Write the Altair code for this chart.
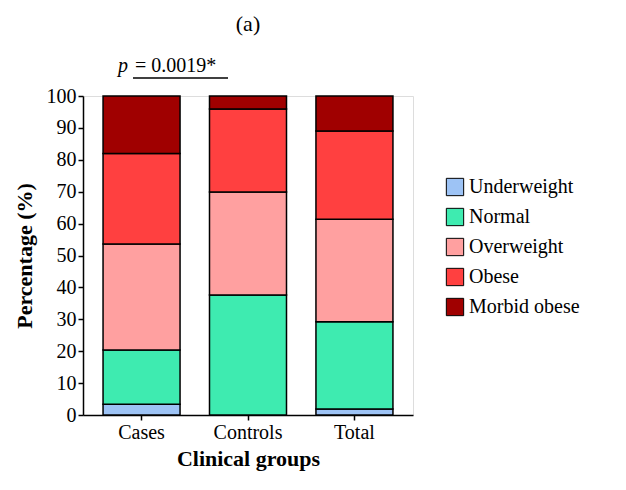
import altair as alt
import pandas as pd

groups = ["Cases", "Controls", "Total"]
categories = ["Underweight", "Normal", "Overweight", "Obese", "Morbid obese"]
colors = ["#9dc3f5", "#3eebb0", "#ffa0a0", "#ff4040", "#a00000"]
cases = [3.4, 17.0, 33.2, 28.4, 18.0]
controls = [0.0, 37.6, 32.3, 26.0, 4.1]
total = [1.9, 27.3, 32.2, 27.6, 11.0]

rows = []
for g, vals in zip(groups, [cases, controls, total]):
    for i, (c, v) in enumerate(zip(categories, vals)):
        rows.append({"group": g, "cat": c, "order": i, "value": v})
df = pd.DataFrame(rows)

FONT = "Liberation Serif"

bars = alt.Chart(df).mark_bar(stroke="black", strokeWidth=1.5, size=77).encode(
    x=alt.X("group:N", sort=groups, title="Clinical groups",
            scale=alt.Scale(paddingInner=0.3, paddingOuter=0.2),
            axis=alt.Axis(labelAngle=0, labelFontSize=20, titleFontSize=22,
                          titleFontWeight="bold", labelFont=FONT, titleFont=FONT,
                          domainColor="black", tickColor="black", labelColor="black",
                          domainWidth=1.5, tickWidth=1.5, titlePadding=6)),
    y=alt.Y("value:Q", stack="zero", title="Percentage (%)",
            scale=alt.Scale(domain=[0, 100], nice=False),
            axis=alt.Axis(values=list(range(0, 101, 10)), labelFontSize=20,
                          titleFontSize=22, titleFontWeight="bold", labelFont=FONT,
                          titleFont=FONT, grid=False, domainColor="black",
                          tickColor="black", labelColor="black", domainWidth=1.5,
                          tickWidth=1.5, titlePadding=10)),
    color=alt.Color("cat:N", sort=categories,
                    scale=alt.Scale(domain=categories, range=colors),
                    legend=alt.Legend(title=None, labelFont=FONT, labelFontSize=20,
                                      symbolType="square", symbolSize=300,
                                      symbolStrokeColor="black", symbolStrokeWidth=1,
                                      labelColor="black", rowPadding=8,
                                      orient="none", legendX=362, legendY=81)),
    order=alt.Order("order:Q"),
)

rule = alt.Chart(pd.DataFrame({"a": [0]})).mark_rule(color="black", strokeWidth=1.5).encode(
    x=alt.value(50), x2=alt.value(145), y=alt.value(-18))
p_txt = alt.Chart(pd.DataFrame({"a": [0]})).mark_text(
    font=FONT, fontSize=20, fontStyle="italic", align="left").encode(
    x=alt.value(35), y=alt.value(-30), text=alt.value("p"))
v_txt = alt.Chart(pd.DataFrame({"a": [0]})).mark_text(
    font=FONT, fontSize=20, align="left").encode(
    x=alt.value(52), y=alt.value(-30), text=alt.value("= 0.0019*"))

chart = alt.layer(bars, rule, p_txt, v_txt).properties(
    width=330, height=319,
    title=alt.TitleParams("(a)", font=FONT, fontSize=22, fontWeight="normal",
                          offset=20, anchor="middle", color="black"),
).configure_view(stroke=None).configure(background="white")

chart.save("out.html", embed_options={"renderer": "svg", "actions": False})
